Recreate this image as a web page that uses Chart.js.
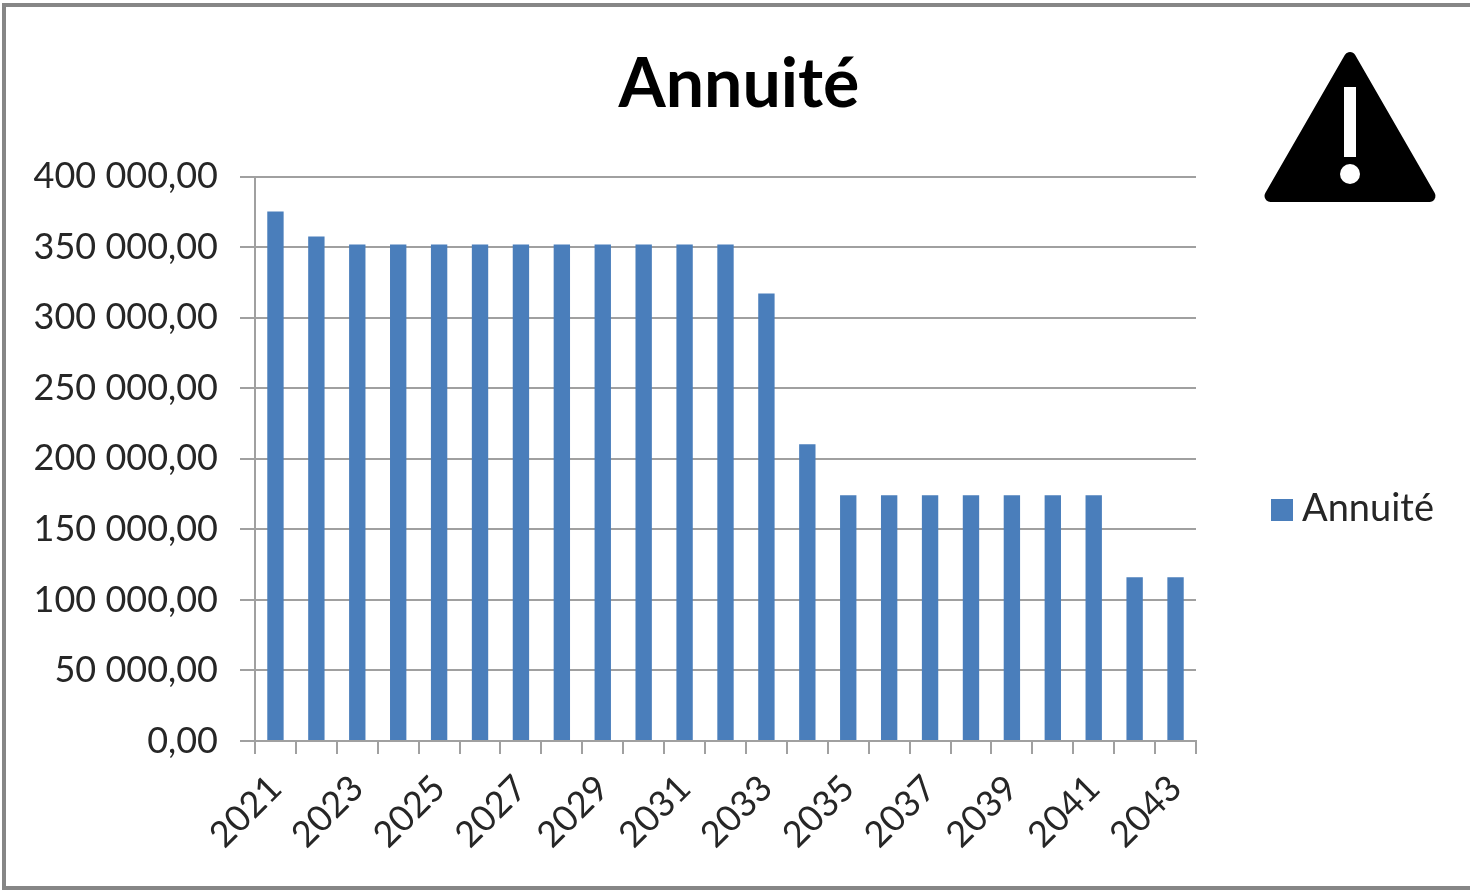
<!DOCTYPE html>
<html>
<head>
<meta charset="utf-8">
<title>Annuité</title>
<script src="https://cdn.jsdelivr.net/npm/chart.js@4/dist/chart.umd.min.js"></script>
<style>
  html, body { margin: 0; padding: 0; background: #fff; }
  #wrap { position: relative; width: 1470px; height: 894px; overflow: hidden; }
  #frame { position: absolute; left: 2px; top: 3px; width: 1480px; height: 879px; border: 4px solid #868686; }
  canvas { position: absolute; left: 0; top: 0; filter: blur(0.6px); }
  #warn { position: absolute; left: 1260px; top: 46px; }
</style>
</head>
<body>
<div id="wrap">
  <div id="frame"></div>
  <canvas id="chart" width="1470" height="894"></canvas>
  <svg id="warn" width="180" height="162" viewBox="0 0 180 162">
    <path d="M90 12 L169.5 150 L10.5 150 Z" fill="#000" stroke="#000" stroke-width="12" stroke-linejoin="round"/>
    <rect x="84" y="41" width="12" height="70" fill="#fff"/>
    <circle cx="90" cy="128" r="10" fill="#fff"/>
  </svg>
</div>
<script>
const years = ["2021","2022","2023","2024","2025","2026","2027","2028","2029","2030","2031","2032",
  "2033","2034","2035","2036","2037","2038","2039","2040","2041","2042","2043"];
const annuite = [375200, 357500, 351900, 351900, 351900, 351900, 351900, 351900, 351900, 351900, 351900, 351900,
  317200, 210300, 174200, 174200, 174200, 174200, 174200, 174200, 174200, 116100, 116100];
const yTicks = ["0,00","50 000,00","100 000,00","150 000,00","200 000,00","250 000,00","300 000,00","350 000,00","400 000,00"];

const fontName = "Lato, 'Open Sans', sans-serif";
const textColor = "#262626";
const gridColor = "#a0a0a0";

new Chart(document.getElementById("chart"), {
  type: "bar",
  data: {
    labels: years,
    datasets: [{
      label: "Annuité",
      data: annuite,
      backgroundColor: "#4a7ebb",
      categoryPercentage: 0.4,
      barPercentage: 1
    }]
  },
  options: {
    responsive: false,
    animation: false,
    devicePixelRatio: 1,
    layout: { padding: { left: 0, top: 0, right: 274, bottom: 0 } },
    plugins: {
      title: {
        display: true,
        text: "Annuité",
        color: "#000",
        font: { family: fontName, size: 68, weight: "bold" },
        padding: { top: 44, bottom: 51 }
      },
      legend: { display: false },
      tooltip: { enabled: false }
    },
    scales: {
      x: {
        grid: { offset: true, drawOnChartArea: false, color: gridColor, lineWidth: 2, tickLength: 13 },
        border: { color: gridColor, width: 2 },
        ticks: {
          autoSkip: false,
          maxRotation: 45,
          minRotation: 45,
          color: textColor,
          padding: 13,
          font: { family: fontName, size: 36 },
          callback: function (value, index) {
            return index % 2 === 0 ? years[index] : "";
          }
        },
        afterFit: function (scale) { scale.height = 153; }
      },
      y: {
        min: 0,
        max: 400000,
        grid: { color: gridColor, lineWidth: 2, tickLength: 15 },
        border: { color: gridColor, width: 2 },
        ticks: {
          stepSize: 50000,
          color: textColor,
          padding: 22,
          font: { family: fontName, size: 36 },
          callback: function (value) {
            return yTicks[Math.round(value / 50000)];
          }
        },
        afterFit: function (scale) { scale.width = 255; }
      }
    }
  },
  plugins: [{
    // legende a droite, titre recentre sur le cadre entier
    id: "sideLegend",
    afterLayout: function (chart) {
      chart.titleBlock.right = 1478;
    },
    afterDraw: function (chart) {
      const ctx = chart.ctx;
      ctx.save();
      ctx.fillStyle = "#4a7ebb";
      ctx.fillRect(1271, 499, 22, 22);
      ctx.fillStyle = textColor;
      ctx.font = "38px " + fontName;
      ctx.textBaseline = "middle";
      ctx.fillText(chart.data.datasets[0].label, 1302, 509);
      ctx.restore();
    }
  }]
});
</script>
</body>
</html>
